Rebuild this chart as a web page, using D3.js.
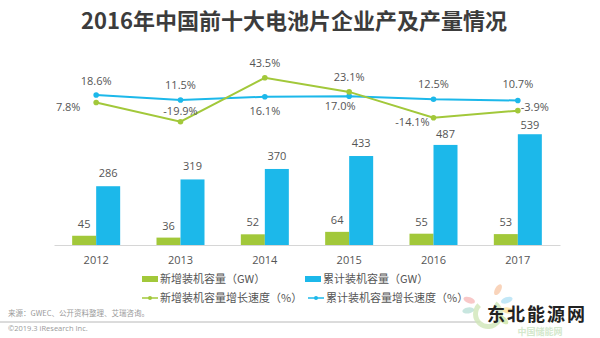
<!DOCTYPE html>
<html><head><meta charset="utf-8">
<script src="https://cdn.jsdelivr.net/npm/d3@7"></script>
<style>
html,body{margin:0;padding:0;background:#fff;}
svg{display:block;}
</style></head>
<body><svg id="chart" width="600" height="338"></svg>
<script>
// ---- data ----
const years = ["2012","2013","2014","2015","2016","2017"];
const newCapacity = [45, 36, 52, 64, 55, 53];            // 新增装机容量 (GW)
const cumCapacity = [286, 319, 370, 433, 487, 539];      // 累计装机容量 (GW)
const newGrowth = [7.8, -19.9, 43.5, 23.1, -14.1, -3.9]; // 新增装机容量增长速度 (%)
const cumGrowth = [18.6, 11.5, 16.1, 17.0, 12.5, 10.7];  // 累计装机容量增长速度 (%)
const legendLabels = ["新增装机容量（GW）","累计装机容量（GW）","新增装机容量增长速度（%）","累计装机容量增长速度（%）"];

// label placement (offsets from the point, px)
const newLblDx = [-28, 0, 0, 0, -21, 17];
const newLblDy = [5, -11, -15, -15, 4, -3];
const cumLblDx = [0, 0, 0, -9, 0, 0];
const cumLblDy = [-14, -15, 14, 10, -15, -16];
const cumBarLblGap = [9, 9, 9, 9, 7, 5];

const GREEN = "#a2c83a", BLUE = "#1cb8ea", TXT = "#555";
const FONT = "'Open Sans','Noto Sans CJK SC',sans-serif";
const CJK = "'Noto Sans CJK SC','Noto Sans',sans-serif";

const svg = d3.select("#chart");

// title
svg.append("text").attr("x", 294).attr("y", 29).attr("text-anchor","middle")
  .attr("font-family", CJK).attr("font-weight","bold").attr("font-size", 22)
  .attr("fill", "#3c3c3c").text("2016年中国前十大电池片企业产及产量情况");

const x = d3.scaleBand().domain(years).range([54, 560]).padding(0);
const xi = d3.scaleBand().domain(["new","cum"]).range([-24, 24]);
const yBar = d3.scaleLinear().domain([0, 600]).range([245, 121.7]);
const yPct = d3.scaleLinear().domain([-20, 45]).range([121.8, 76.7]);
const cx = d => x(d) + x.bandwidth()/2;

// axis
const axis = svg.append("g").attr("transform","translate(0,245)")
  .call(d3.axisBottom(x).tickSize(0).tickPadding(11));
axis.select(".domain").attr("stroke","#d6d6d6");
axis.selectAll("text").attr("font-family",FONT).attr("font-size",11).attr("fill",TXT);

// bars
const g = svg.append("g");
g.selectAll(".bn").data(years).join("rect")
  .attr("x", d => cx(d) + xi("new")).attr("width", xi.bandwidth())
  .attr("y", (d,i) => yBar(newCapacity[i])).attr("height", (d,i) => yBar(0) - yBar(newCapacity[i]))
  .attr("fill", GREEN);
g.selectAll(".bc").data(years).join("rect")
  .attr("x", d => cx(d) + xi("cum")).attr("width", xi.bandwidth())
  .attr("y", (d,i) => yBar(cumCapacity[i])).attr("height", (d,i) => yBar(0) - yBar(cumCapacity[i]))
  .attr("fill", BLUE);
g.selectAll(".ln").data(years).join("text")
  .attr("x", d => cx(d) + xi("new") + xi.bandwidth()/2)
  .attr("y", (d,i) => yBar(newCapacity[i]) - 8)
  .attr("text-anchor","middle").attr("font-family",FONT).attr("font-size",11).attr("fill",TXT)
  .text((d,i) => newCapacity[i]);
g.selectAll(".lc").data(years).join("text")
  .attr("x", d => cx(d) + xi("cum") + xi.bandwidth()/2)
  .attr("y", (d,i) => yBar(cumCapacity[i]) - cumBarLblGap[i])
  .attr("text-anchor","middle").attr("font-family",FONT).attr("font-size",11).attr("fill",TXT)
  .text((d,i) => cumCapacity[i]);

// lines
function drawLine(vals, color) {
  const line = d3.line().x((v,i) => cx(years[i])).y(v => yPct(v));
  svg.append("path").datum(vals).attr("d", line).attr("fill","none")
    .attr("stroke", color).attr("stroke-width", 2);
  svg.append("g").selectAll("circle").data(vals).join("circle")
    .attr("cx", (v,i) => cx(years[i])).attr("cy", v => yPct(v)).attr("r", 2.8).attr("fill", color);
}
drawLine(cumGrowth, BLUE);
drawLine(newGrowth, GREEN);

function drawPctLabels(vals, dxs, dys) {
  svg.append("g").selectAll("text").data(vals).join("text")
    .attr("x", (v,i) => cx(years[i]) + dxs[i]).attr("y", (v,i) => yPct(v) + dys[i])
    .attr("dy","0.35em").attr("text-anchor","middle")
    .attr("font-family",FONT).attr("font-size",11).attr("fill",TXT)
    .text(v => v.toFixed(1) + "%");
}
drawPctLabels(cumGrowth, cumLblDx, cumLblDy);
drawPctLabels(newGrowth, newLblDx, newLblDy);

// legend
const lg = svg.append("g").attr("font-family",CJK).attr("font-size",11).attr("fill",TXT);
const legendPos = [[142,279],[305,279],[142,298],[308,298]];
legendLabels.forEach((t,i) => {
  const [lx, ly] = legendPos[i];
  const col = (i % 2 === 0) ? GREEN : BLUE;
  if (i < 2) {
    lg.append("rect").attr("x", lx).attr("y", ly - 3).attr("width", 16).attr("height", 6).attr("fill", col);
  } else {
    lg.append("line").attr("x1", lx).attr("x2", lx + 16).attr("y1", ly).attr("y2", ly)
      .attr("stroke", col).attr("stroke-width", 1.5);
    lg.append("circle").attr("cx", lx + 8).attr("cy", ly).attr("r", 2).attr("fill", col);
  }
  lg.append("text").attr("x", lx + 18).attr("y", ly).attr("dy","0.35em").text(t);
});

// footer
svg.append("text").attr("x", 8).attr("y", 316).attr("font-family",CJK).attr("font-size",7.5)
  .attr("fill","#9a9a9a").text("来源：GWEC、公开资料整理、艾瑞咨询。");
svg.append("line").attr("x1", 0).attr("x2", 480).attr("y1", 322).attr("y2", 322)
  .attr("stroke","#b8b8b8").attr("stroke-width",1);
svg.append("text").attr("x", 8).attr("y", 331).attr("font-family",FONT).attr("font-size",7.5)
  .attr("fill","#9a9a9a").text("©2019.3 iResearch Inc.");

// watermark logo
const wm = svg.append("g");
const petals = [["#f4b183",-60],["#8fd3f0",-20],["#f7d26b",10],["#b7d97a",40],["#f29b9b",200],["#9ad2c4",170]];
petals.forEach(([c,a]) => {
  const r = a * Math.PI/180;
  wm.append("ellipse").attr("cx", 488 + 20*Math.cos(r)).attr("cy", 307 + 20*Math.sin(r))
    .attr("rx", 3).attr("ry", 6).attr("fill", c).attr("opacity", 0.55)
    .attr("transform", `rotate(${a+90},${488 + 20*Math.cos(r)},${307 + 20*Math.sin(r)})`);
});
wm.append("path").attr("d", d3.arc()({innerRadius: 10, outerRadius: 15, startAngle: 0.6, endAngle: 5.5}))
  .attr("transform","translate(488,314)").attr("fill","#cfe6b8").attr("opacity",0.8);
wm.append("text").attr("x", 540).attr("y", 335).attr("text-anchor","middle")
  .attr("font-family",CJK).attr("font-weight","bold").attr("font-size",9).attr("fill","#c9e3c0")
  .attr("opacity",0.8).text("中国储能网");
wm.append("text").attr("x", 537).attr("y", 321).attr("text-anchor","middle")
  .attr("font-family",CJK).attr("font-weight","bold").attr("font-size",18).attr("fill","#222")
  .attr("letter-spacing", 2).text("东北能源网");
</script></body></html>
